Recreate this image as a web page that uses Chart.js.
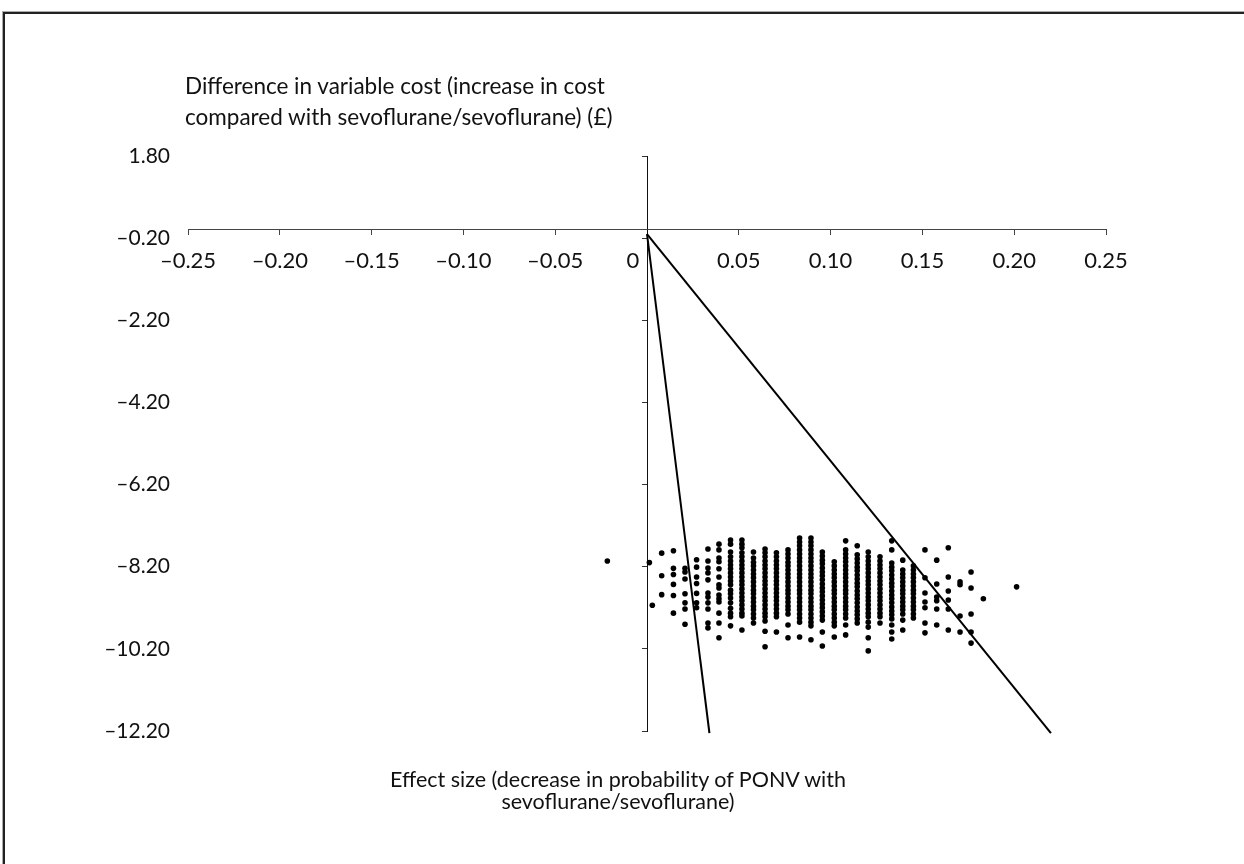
<!DOCTYPE html>
<html><head><meta charset="utf-8">
<script src="https://cdn.jsdelivr.net/npm/chart.js@4.4.1/dist/chart.umd.min.js"></script>
<style>
html,body{margin:0;padding:0;background:#fff;}
body{width:1244px;height:864px;position:relative;overflow:hidden;font-family:Lato,"Open Sans",sans-serif;color:#111;}
#frame{position:absolute;left:3px;top:12px;width:1400px;height:1000px;border-left:2px solid #222;border-top:2px solid #222;box-shadow:-1px -1px 0 #aaa;}
#c{position:absolute;left:0;top:0;}
.ttl{position:absolute;white-space:nowrap;}
#ytitle{left:185px;top:70px;font-size:22.5px;line-height:31px;}
#xtitle{left:318px;top:768px;width:600px;text-align:center;font-size:21.5px;line-height:22px;}
</style></head>
<body>
<div id="frame"></div>
<canvas id="c" width="1244" height="864"></canvas>
<div class="ttl" id="ytitle">Difference in variable cost (increase in cost<br>compared with sevoflurane/sevoflurane) (£)</div>
<div class="ttl" id="xtitle">Effect size (decrease in probability of PONV with<br>sevoflurane/sevoflurane)</div>
<script>
// Axis ticks
const xTickValues = [-0.25, -0.20, -0.15, -0.10, -0.05, 0, 0.05, 0.10, 0.15, 0.20, 0.25];
const yTickValues = [1.8, -0.2, -2.2, -4.2, -6.2, -8.2, -10.2, -12.2];

// Simulated effect sizes (x positions of the point columns)
const effectSize = [-0.0216, 0.0013, 0.0029, 0.0080, 0.0144, 0.0207, 0.0270, 0.0332, 0.0392, 0.0455,
  0.0517, 0.0580, 0.0643, 0.0705, 0.0768, 0.0831, 0.0893, 0.0955, 0.1020, 0.1082,
  0.1145, 0.1205, 0.1269, 0.1333, 0.1393, 0.1451, 0.1514, 0.1578, 0.1641, 0.1705,
  0.1765, 0.1832, 0.2013];

// Cost differences for each effect-size column
const costDifference = [
  [-8.06],
  [-8.10],
  [-9.14],
  [-7.87, -8.42, -8.88],
  [-7.81, -8.24, -8.39, -8.63, -8.90, -9.33],
  [-8.24, -8.33, -8.50, -8.86, -9.08, -9.23, -9.60],
  [-8.03, -8.21, -8.45, -8.61, -8.85, -9.08, -9.20],
  [-7.77, -8.06, -8.23, -8.35, -8.52, -8.84, -8.94, -9.08, -9.23, -9.57, -9.69],
  [-7.65, -7.79, -7.99, -8.08, -8.25, -8.45, -8.64, -8.72, -8.89, -8.98, -9.06, -9.33, -9.57, -9.93],
  [-7.55, -7.65, -7.84, -7.96, -8.06, -8.16, -8.25, -8.35, -8.45, -8.55, -8.64, -8.77, -8.86, -8.96, -9.08, -9.21, -9.33, -9.42, -9.64],
  [-7.55, -7.65, -7.74, -7.86, -7.96, -8.06, -8.16, -8.25, -8.35, -8.45, -8.55, -8.64, -8.74, -8.84, -8.94, -9.03, -9.13, -9.23, -9.33, -9.40, -9.74],
  [-7.84, -7.99, -8.09, -8.18, -8.28, -8.38, -8.47, -8.57, -8.67, -8.77, -8.86, -8.96, -9.06, -9.16, -9.25, -9.35, -9.45, -9.57],
  [-7.77, -7.86, -7.96, -8.06, -8.16, -8.25, -8.35, -8.45, -8.55, -8.64, -8.74, -8.84, -8.94, -9.03, -9.13, -9.23, -9.33, -9.42, -9.52, -9.77, -10.15],
  [-7.86, -7.96, -8.06, -8.16, -8.25, -8.35, -8.45, -8.55, -8.64, -8.74, -8.84, -8.94, -9.03, -9.13, -9.23, -9.33, -9.42, -9.79],
  [-7.79, -7.89, -7.99, -8.09, -8.18, -8.28, -8.38, -8.47, -8.57, -8.67, -8.77, -8.86, -8.96, -9.06, -9.16, -9.25, -9.35, -9.62, -9.93],
  [-7.50, -7.60, -7.69, -7.79, -7.89, -7.99, -8.08, -8.18, -8.28, -8.38, -8.47, -8.57, -8.67, -8.77, -8.86, -8.96, -9.06, -9.16, -9.25, -9.35, -9.45, -9.55, -9.91],
  [-7.50, -7.60, -7.69, -7.79, -7.89, -7.99, -8.08, -8.18, -8.28, -8.38, -8.47, -8.57, -8.67, -8.77, -8.86, -8.96, -9.06, -9.16, -9.25, -9.35, -9.45, -9.55, -9.64, -9.98],
  [-7.84, -7.94, -8.04, -8.13, -8.23, -8.33, -8.42, -8.52, -8.62, -8.72, -8.81, -8.91, -9.01, -9.11, -9.20, -9.30, -9.40, -9.50, -9.79, -10.13],
  [-8.08, -8.18, -8.28, -8.38, -8.47, -8.57, -8.67, -8.77, -8.86, -8.96, -9.06, -9.16, -9.25, -9.35, -9.45, -9.55, -9.64, -9.91],
  [-7.57, -7.79, -7.89, -7.99, -8.08, -8.18, -8.28, -8.38, -8.47, -8.57, -8.67, -8.77, -8.86, -8.96, -9.06, -9.16, -9.25, -9.35, -9.45, -9.62, -9.86],
  [-7.69, -7.91, -8.01, -8.11, -8.21, -8.30, -8.40, -8.50, -8.60, -8.69, -8.79, -8.89, -8.98, -9.08, -9.18, -9.28, -9.37, -9.47, -9.57],
  [-7.84, -7.96, -8.06, -8.16, -8.25, -8.35, -8.45, -8.55, -8.64, -8.74, -8.84, -8.94, -9.03, -9.13, -9.23, -9.33, -9.42, -9.55, -9.67, -9.93, -10.25],
  [-7.96, -8.06, -8.16, -8.25, -8.35, -8.45, -8.55, -8.64, -8.74, -8.84, -8.94, -9.03, -9.13, -9.23, -9.33, -9.42, -9.57],
  [-7.57, -7.79, -8.11, -8.21, -8.30, -8.40, -8.50, -8.60, -8.69, -8.79, -8.89, -8.98, -9.08, -9.18, -9.28, -9.37, -9.47, -9.62, -9.79, -9.96],
  [-8.04, -8.28, -8.38, -8.47, -8.57, -8.67, -8.77, -8.86, -8.96, -9.06, -9.16, -9.25, -9.35, -9.50, -9.74],
  [-8.18, -8.28, -8.38, -8.47, -8.57, -8.67, -8.77, -8.86, -8.96, -9.06, -9.16, -9.25, -9.35, -9.45],
  [-7.79, -8.47, -8.84, -9.06, -9.20, -9.57, -9.81],
  [-8.04, -8.62, -8.94, -9.03, -9.23, -9.62],
  [-7.74, -8.45, -8.79, -9.01, -9.23, -9.74],
  [-8.57, -8.64, -9.40, -9.79],
  [-8.33, -8.72, -9.35, -9.79, -10.06],
  [-8.98],
  [-8.69]
];

// Threshold (ceiling ratio) lines from the origin
const steepLineX = [0, 0.0340];
const shallowLineX = [0, 0.2200];
const thresholdLineY = [-0.10, -12.25];

const points = [];
effectSize.forEach((ex, i) => costDifference[i].forEach(cy => points.push({x: ex, y: cy})));
const steepLine = steepLineX.map((x, i) => ({x, y: thresholdLineY[i]}));
const shallowLine = shallowLineX.map((x, i) => ({x, y: thresholdLineY[i]}));

const fmt = v => {
  if (Math.abs(v) < 1e-9) return '0';
  const s = Math.abs(v).toFixed(2);
  return v < 0 ? '\u2013' + s : s;
};

new Chart(document.getElementById('c'), {
  type: 'scatter',
  data: {
    datasets: [
      {data: points, yAxisID: 'y', xAxisID: 'x', pointRadius: 2.8, pointBorderWidth: 0,
       pointBackgroundColor: '#000', backgroundColor: '#000', showLine: false, order: 2},
      {type: 'line', data: steepLine, yAxisID: 'y', xAxisID: 'x', borderColor: '#000', borderWidth: 2,
       pointRadius: 0, fill: false, clip: false, order: 1},
      {type: 'line', data: shallowLine, yAxisID: 'y', xAxisID: 'x', borderColor: '#000', borderWidth: 2,
       pointRadius: 0, fill: false, clip: false, order: 1}
    ]
  },
  options: {
    responsive: false, animation: false, devicePixelRatio: 1,
    layout: {padding: {left: 0, right: 138, top: 156, bottom: 133}},
    plugins: {legend: {display: false}, tooltip: {enabled: false}, title: {display: false}},
    scales: {
      yLab: {
        type: 'linear', axis: 'y', position: 'left', min: -12.2, max: 1.8,
        afterFit: s => { s.width = 188; },
        afterBuildTicks: s => { s.ticks = yTickValues.map(v => ({value: v})); },
        grid: {display: false, drawTicks: false}, border: {display: false},
        ticks: {padding: 18, font: {family: 'Lato', size: 21}, color: '#111', callback: v => fmt(v)}
      },
      y: {
        type: 'linear', axis: 'y', position: {x: 0}, min: -12.2, max: 1.8,
        afterFit: s => { s.width = 0; },
        afterBuildTicks: s => { s.ticks = yTickValues.map(v => ({value: v})); },
        grid: {drawOnChartArea: false, drawTicks: true, tickLength: 5, color: '#333', lineWidth: 1},
        border: {display: true, color: '#111', width: 1},
        ticks: {display: false}
      },
      x: {
        type: 'linear', axis: 'x', position: {y: 0}, min: -0.25, max: 0.25,
        afterFit: s => { s.height = 0; },
        afterBuildTicks: s => { s.ticks = xTickValues.map(v => ({value: v})); },
        grid: {drawOnChartArea: false, drawTicks: true, tickLength: 5, color: '#444', lineWidth: 1},
        border: {display: true, color: '#444', width: 1},
        ticks: {padding: 13, font: {family: 'Lato', size: 22}, color: '#111', maxRotation: 0, autoSkip: false,
          callback: v => fmt(v) === '0' ? '0     ' : fmt(v)}
      }
    }
  }
});
</script>
</body></html>
